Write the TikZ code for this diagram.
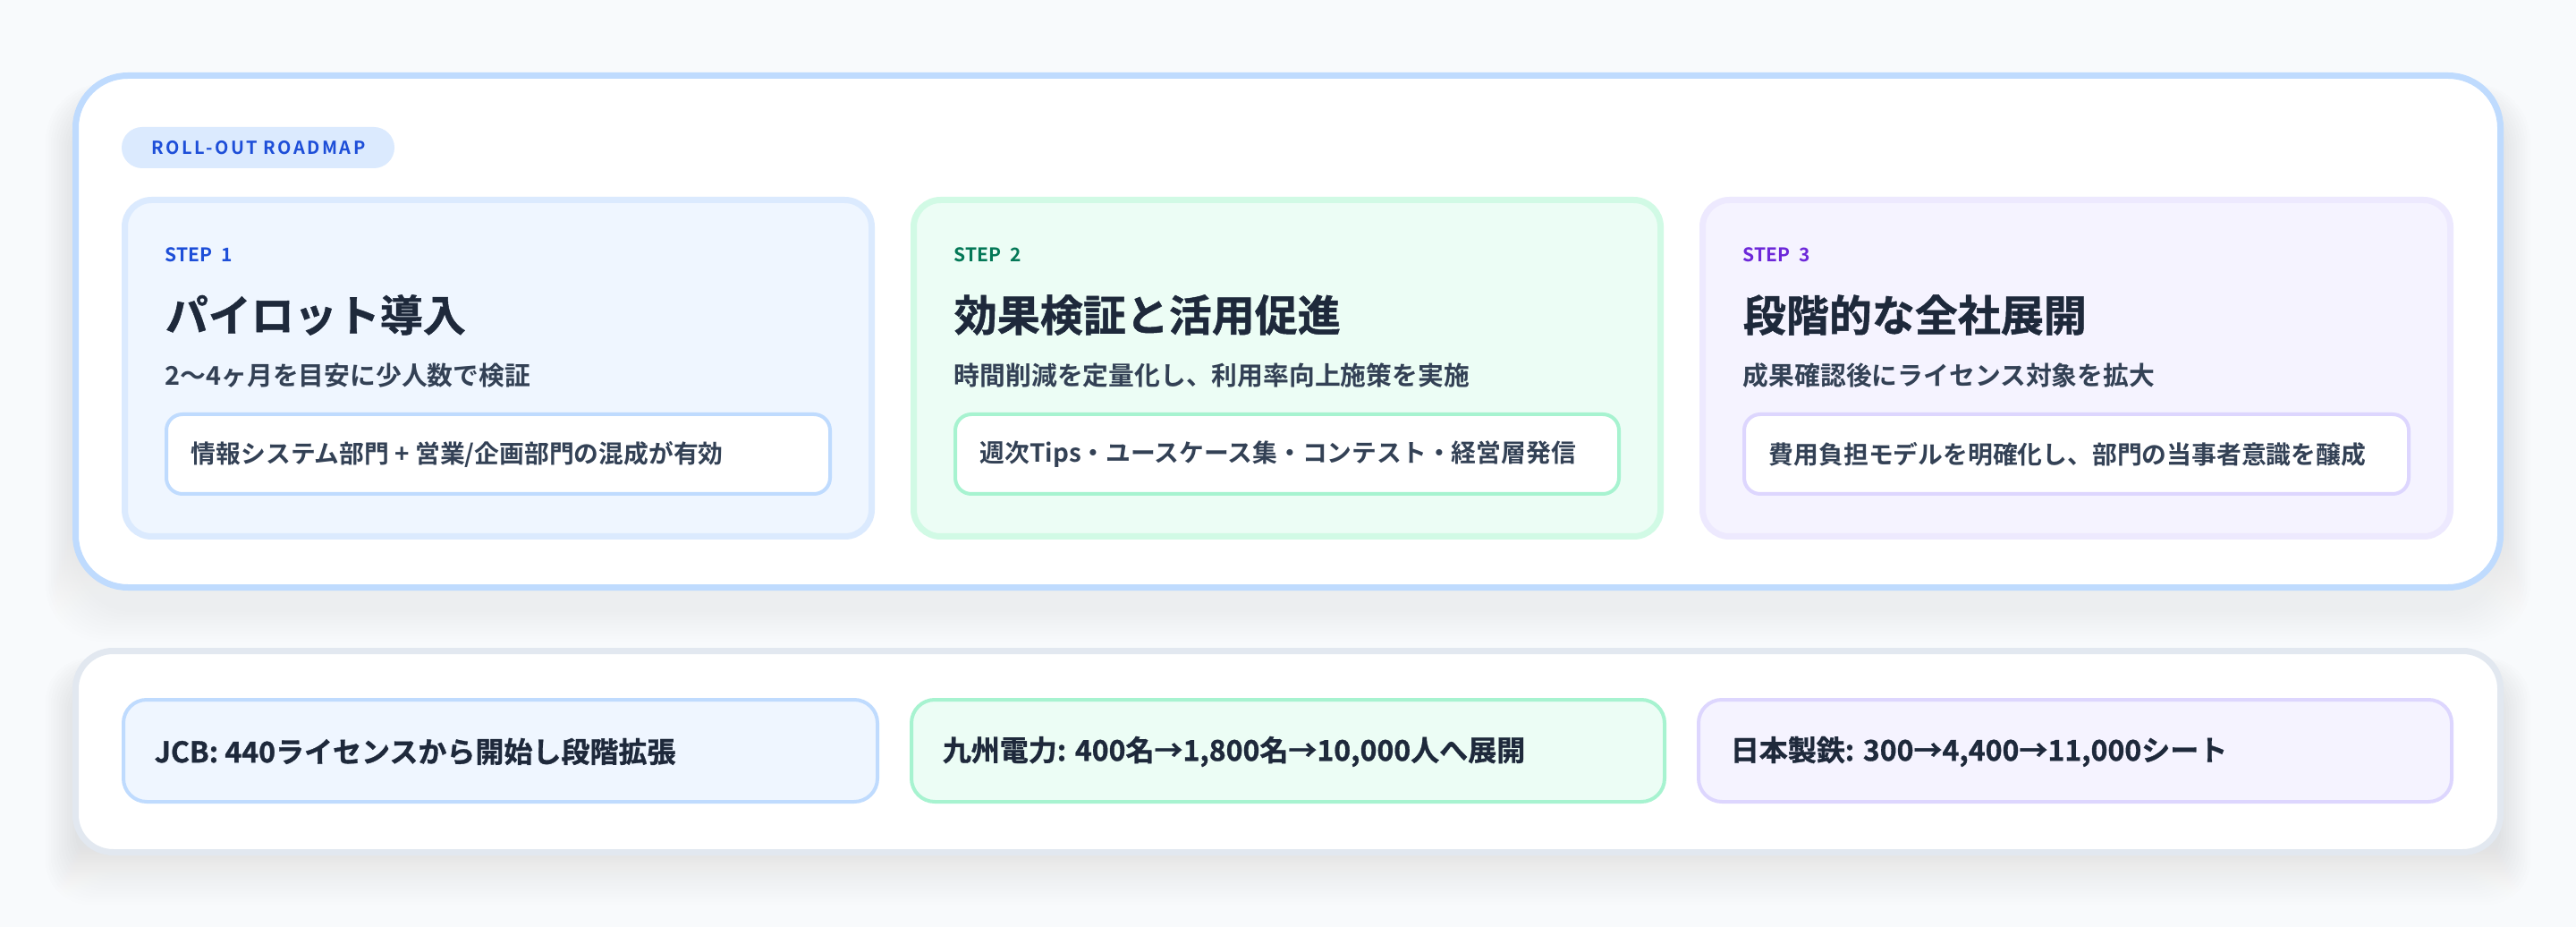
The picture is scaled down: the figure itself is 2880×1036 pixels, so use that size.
\documentclass[tikz,border=0pt]{standalone}
\usepackage{fontspec}
\setmainfont{Noto Sans CJK JP}
\newfontfamily\boldjp{Noto Sans CJK JP Bold}
\newfontfamily\heavyjp{Noto Sans CJK JP Bold}[FakeBold=1]
\newfontfamily\spacedjp{Noto Sans CJK JP Bold}[LetterSpace=12]

\definecolor{pagebg}{HTML}{F8FAFC}
\definecolor{ink}{HTML}{1E293B}
\definecolor{subink}{HTML}{334155}
\definecolor{shade}{HTML}{64748B}
\definecolor{grayline}{HTML}{E2E8F0}
\definecolor{blueline}{HTML}{BFDBFE}
\definecolor{bluesoft}{HTML}{DBEAFE}
\definecolor{bluefill}{HTML}{EFF6FF}
\definecolor{bluetext}{HTML}{1D4ED8}
\definecolor{greenline}{HTML}{A7F3D0}
\definecolor{greensoft}{HTML}{D1FAE5}
\definecolor{greenfill}{HTML}{ECFDF5}
\definecolor{greentext}{HTML}{047857}
\definecolor{violetline}{HTML}{DDD6FE}
\definecolor{violetsoft}{HTML}{EDE9FE}
\definecolor{violetfill}{HTML}{F5F3FF}
\definecolor{violettext}{HTML}{6D28D9}

\tikzset{
  panel/.style={fill=white, line width=1.75pt},
  stepcard/.style={line width=1.75pt, rounded corners=7.5pt},
  notebox/.style={fill=white, line width=1pt, rounded corners=4.5pt},
  casebox/.style={line width=1pt, rounded corners=6.5pt},
  pilltag/.style={anchor=west, inner sep=0pt, text=bluetext, font=\spacedjp\fontsize{5pt}{6pt}\selectfont},
  steptag/.style={anchor=west, inner sep=0pt, font=\boldjp\fontsize{5.25pt}{6pt}\selectfont},
  steptitle/.style={anchor=west, inner sep=0pt, text=ink, font=\heavyjp\fontsize{12pt}{14pt}\selectfont},
  stepsub/.style={anchor=west, inner sep=0pt, text=subink, font=\boldjp\fontsize{7.2pt}{8pt}\selectfont},
  notetext/.style={anchor=west, inner sep=0pt, text=subink, font=\boldjp\fontsize{6.95pt}{8pt}\selectfont},
  casetext/.style={anchor=west, inner sep=0pt, text=ink, font=\heavyjp\fontsize{8pt}{9pt}\selectfont}
}

\begin{document}
\begin{tikzpicture}[x=0.25pt, y=-0.25pt]
\fill[pagebg] (0,0) rectangle (2880,1036);
\useasboundingbox (0,0) rectangle (2880,1036);

% soft shadows under the two panels
\foreach \s in {0,3,...,33} {
  \fill[shade, opacity=0.0045, rounded corners=16pt] (84-\s,110-0.5*\s) rectangle (2796+\s,684+\s);
  \fill[shade, opacity=0.0045, rounded corners=12pt] (84-\s,752-0.5*\s) rectangle (2796+\s,978+\s);
}

% roadmap panel
\draw[panel, draw=blueline, rounded corners=14.6pt] (84.5,84.5) rectangle (2795.5,656.5);
\fill[bluesoft, rounded corners=5.75pt] (136,142) rectangle (441,188);
\node[pilltag] (pill) at (169,165) {ROLL-OUT ROADMAP};

% step 1
\draw[stepcard, draw=bluesoft, fill=bluefill] (139.5,223.5) rectangle (974.5,599.5);
\node[steptag, text=bluetext] (tag1) at (184,285) {STEP\ \ 1};
\node[steptitle] (title1) at (184,352) {パイロット導入};
\node[stepsub] (sub1) at (184,420) {2〜4ヶ月を目安に少人数で検証};
\draw[notebox, draw=blueline] (186,463) rectangle (928,552);
\node[notetext] (note1) at (213,508) {情報システム部門 + 営業/企画部門の混成が有効};

% step 2
\draw[stepcard, draw=greensoft, fill=greenfill] (1021.5,223.5) rectangle (1856.5,599.5);
\node[steptag, text=greentext] (tag2) at (1066,285) {STEP\ \ 2};
\node[steptitle] (title2) at (1066,352) {効果検証と活用促進};
\node[stepsub] (sub2) at (1066,420) {時間削減を定量化し、利用率向上施策を実施};
\draw[notebox, draw=greenline] (1068,463) rectangle (1810,552);
\node[notetext] (note2) at (1095,508) {週次Tips・ユースケース集・コンテスト・経営層発信};

% step 3
\draw[stepcard, draw=violetsoft, fill=violetfill] (1903.5,223.5) rectangle (2739.5,599.5);
\node[steptag, text=violettext] (tag3) at (1948,285) {STEP\ \ 3};
\node[steptitle] (title3) at (1948,352) {段階的な全社展開};
\node[stepsub] (sub3) at (1948,420) {成果確認後にライセンス対象を拡大};
\draw[notebox, draw=violetline] (1950,463) rectangle (2693,552);
\node[notetext] (note3) at (1977,508) {費用負担モデルを明確化し、部門の当事者意識を醸成};

% case panel
\draw[panel, draw=grayline, rounded corners=10.5pt] (84.5,727.5) rectangle (2795.5,952.5);
\draw[casebox, draw=blueline, fill=bluefill] (138,782) rectangle (981,896);
\node[casetext] (case1) at (172,840) {JCB: 440ライセンスから開始し段階拡張};
\draw[casebox, draw=greenline, fill=greenfill] (1019,782) rectangle (1861,896);
\node[casetext] (case2) at (1053,840) {九州電力: 400名→1,800名→10,000人へ展開};
\draw[casebox, draw=violetline, fill=violetfill] (1899,782) rectangle (2741,896);
\node[casetext] (case3) at (1934,840) {日本製鉄: 300→4,400→11,000シート};
\end{tikzpicture}
\end{document}
